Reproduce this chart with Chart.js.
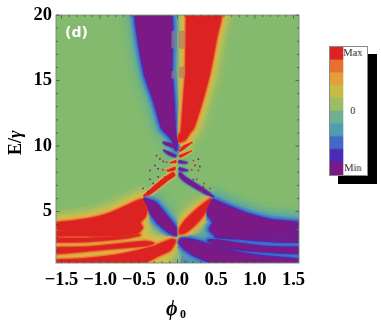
<!DOCTYPE html>
<html>
<head>
<meta charset="utf-8">
<script src="https://cdn.jsdelivr.net/npm/chart.js@4/dist/chart.umd.js"></script>
<style>
  html, body { margin: 0; background: #fff; overflow: hidden; }
  #wrap { position: relative; width: 381px; height: 327px; filter: blur(0.6px); }
  #map { position: absolute; left: 0; top: 0; }
  #bar { position: absolute; left: 329px; top: 46px; background: #fff; box-sizing: border-box; border: 1px solid #8a8a8a; box-shadow: 9px 8px 0 #000; }
</style>
</head>
<body>
<div id="wrap">
  <canvas id="map" width="381" height="327"></canvas>
  <canvas id="bar" width="39" height="130"></canvas>
</div>
<script>
// axes
var xTicks = [-1.5, -1, -0.5, 0, 0.5, 1, 1.5];
var xLabels = ['\u22121.5', '\u22121.0', '\u22120.5', '0.0', '0.5', '1.0', '1.5'];
var yTicks = [5, 10, 15, 20];
var yLabels = ['5', '10', '15', '20'];
var xMinor = [-1.4, -1.3, -1.2, -1.1, -0.9, -0.8, -0.7, -0.6, -0.4, -0.3, -0.2, -0.1, 0.1, 0.2, 0.3, 0.4, 0.6, 0.7, 0.8, 0.9, 1.1, 1.2, 1.3, 1.4];
var yMinor = [2, 3, 4, 6, 7, 8, 9, 11, 12, 13, 14, 16, 17, 18, 19];

// colour bar
var legendValues = [1, 1, 1, 1, 1, 1, 1, 1, 1, 1];
var legendColors = ['#7b1a86', '#4a2bb5', '#4268c8', '#4f9db0', '#6fb090', '#9cbd62', '#c8bb45', '#e3a03a', '#e8702f', '#dd2222'];
var legendTicks = [0.5, 5, 9.5];
var legendLabels = ['Min', '0', 'Max'];

// contours as [phi, E/gamma]
var wedgePurple = [[-0.558, 20.5], [-0.506, 18.25], [-0.42, 15.5], [-0.29, 13.25], [-0.197, 11.39], [-0.12, 10.89], [-0.063, 10.5], [-0.02, 9.76], [-0.011, 10.39], [-0.035, 11], [-0.052, 13.25], [-0.082, 15.75], [-0.104, 20.5]];
var wedgeRed = [[0.12, 20.5], [0.108, 15.75], [0.078, 13.25], [0.048, 11], [0.024, 10.89], [0.02, 10.34], [0.097, 10.5], [0.153, 11], [0.205, 11.39], [0.307, 13.25], [0.41, 15.5], [0.5, 18.25], [0.563, 20.5]];

var wingRedMain = [[-1.6, 4.1], [-1.33, 4.27], [-1.07, 4.52], [-0.855, 4.9], [-0.64, 5.47], [-0.457, 5.9], [-0.4, 5.15], [-0.42, 4.65], [-0.487, 4.15], [-0.457, 3.77], [-0.53, 3.32], [-0.94, 3.15], [-1.33, 3.17], [-1.6, 3.17], [-1.6, 3.45], [-1.375, 3.52], [-1.6, 3.72]];
var wingRedBand2 = [[-1.6, 2.95], [-1.16, 2.95], [-0.725, 3.1], [-0.487, 3.2], [-0.725, 2.95], [-1.16, 2.74], [-1.6, 2.72]];
var wingRedBand3 = [[-1.6, 2.22], [-1.16, 2.27], [-0.725, 2.52], [-0.42, 2.7], [-0.314, 2.57], [-0.42, 2.4], [-0.81, 2.22], [-1.16, 2.02], [-1.6, 1.82]];
var wingRedBand4 = [[-1.6, 1.27], [-1.16, 1.4], [-0.725, 1.72], [-0.335, 2.27], [-0.076, 2.85], [-0.03, 2.77], [-0.097, 2.07], [-0.25, 1.65], [-0.42, 1.15], [-0.725, 1.0], [-1.6, 1.0]];

var wingPurpleMain = [[0.444, 5.9], [0.7, 5.27], [0.92, 4.77], [1.22, 4.32], [1.6, 4.1], [1.6, 3.82], [1.4, 3.6], [1.6, 3.45], [1.6, 3.2], [1.18, 3.2], [0.75, 3.27], [0.51, 3.15], [0.42, 3.65], [0.465, 4.15], [0.4, 4.77], [0.38, 5.4]];
var wingPurpleBand2 = [[1.6, 3.02], [1.18, 3.02], [0.75, 3.22], [0.49, 3.07], [0.75, 2.97], [1.18, 2.77], [1.6, 2.72]];
var wingPurpleBand3 = [[1.6, 2.22], [1.18, 2.27], [0.75, 2.57], [0.53, 2.77], [0.4, 2.77], [0.53, 2.4], [0.75, 2.15], [1.18, 1.95], [1.6, 1.87]];
var wingPurpleBand4 = [[1.6, 1.32], [1.18, 1.52], [0.75, 1.9], [0.44, 2.4], [0.18, 2.82], [0.054, 2.87], [0.03, 2.65], [0.097, 2.15], [0.23, 1.65], [0.44, 1.15], [0.83, 1.0], [1.6, 1.0]];

var bladeRed = [[0.435, 5.97], [0.357, 5.65], [0.227, 5.02], [0.097, 4.27], [0.03, 3.65], [0.03, 3.32], [0.097, 3.4], [0.206, 3.9], [0.335, 4.77]];
var bladePurple = [[-0.444, 5.97], [-0.29, 5.65], [-0.162, 4.77], [-0.032, 3.77], [-0.024, 3.27], [-0.097, 3.4], [-0.25, 4.15], [-0.357, 5.02]];

var spineRed = [[-0.444, 6.19], [-0.314, 6.89], [-0.184, 7.52], [-0.054, 8.0], [-0.032, 7.76], [-0.12, 7.39], [-0.25, 6.77], [-0.38, 6.22]];
var spinePurple = [[0.032, 8.0], [0.097, 7.64], [0.227, 7.14], [0.357, 6.64], [0.466, 6.14], [0.357, 6.39], [0.206, 6.89], [0.076, 7.39], [0.024, 7.76]];

var dashRedA = [[-0.14, 8.14], [-0.032, 8.39], [-0.032, 8.19], [-0.12, 8.07]];
var dashRedB = [[-0.097, 8.72], [-0.02, 8.89], [-0.02, 8.74]];
var dashRedC = [[0.02, 9.27], [0.097, 9.44], [0.184, 9.64], [0.097, 9.32], [0.032, 9.14]];
var dashRedD = [[0.02, 9.64], [0.076, 10.0], [0.184, 10.27], [0.097, 9.84], [0.03, 9.59]];
var dashPurpleA = [[0.02, 8.34], [0.128, 8.14], [0.03, 8.14]];
var dashPurpleB = [[0.02, 8.89], [0.12, 8.72], [0.02, 8.74]];
var dashPurpleC = [[-0.184, 9.69], [-0.076, 9.44], [-0.02, 9.27], [-0.032, 9.19], [-0.12, 9.39]];
var dashPurpleD = [[-0.184, 10.3], [-0.076, 10.14], [-0.024, 9.84], [-0.076, 9.94], [-0.162, 10.14]];

// soft underlays behind the lower wings
var yellowField = [[-1.6, 4.4], [-1.33, 4.57], [-1.07, 4.87], [-0.855, 5.27], [-0.64, 5.82], [-0.457, 6.27], [-0.357, 5.77], [-0.27, 4.77], [-0.184, 3.77], [-0.076, 3.27], [0, 3.0], [0.0, 1.0], [-1.6, 1.0]];
var blueField = [[1.6, 4.4], [1.22, 4.6], [0.92, 5.05], [0.7, 5.6], [0.444, 6.27], [0.36, 5.77], [0.27, 4.77], [0.184, 3.77], [0.076, 3.27], [0.02, 3.0], [0.02, 1.0], [1.6, 1.0]];
var greenFingerA = [[-1.6, 2.64], [-1.16, 2.64], [-0.8, 2.5], [-1.16, 2.36], [-1.6, 2.3]];
var greenFingerB = [[-1.6, 1.74], [-1.16, 1.92], [-0.72, 2.1], [-1.16, 1.52], [-1.6, 1.36]];
var tealFingerA = [[1.6, 2.66], [1.18, 2.66], [0.85, 2.5], [1.18, 2.36], [1.6, 2.28]];
var tealFingerB = [[1.6, 1.8], [1.18, 1.88], [0.8, 2.02], [1.18, 1.58], [1.6, 1.4]];
var centerStrip = [[-0.02, 3.1], [0.03, 3.1], [0.03, 1.0], [-0.02, 1.0]];

// blotches in the narrow column at the top
var blotchRight = [[[0.03, 18.75], [0.09, 18.75], [0.09, 17.5], [0.03, 17.5]], [[0.03, 16], [0.09, 16], [0.09, 15.25], [0.03, 15.25]]];
var blotchLeft = [[[-0.07, 18.75], [-0.02, 18.75], [-0.02, 17.5], [-0.07, 17.5]], [[-0.07, 15.7], [-0.02, 15.7], [-0.02, 15.2], [-0.07, 15.2]]];

// isolated specks along the spikes
var specksPurple = [[-0.27, 9.27], [-0.227, 9.02], [-0.184, 8.82], [-0.292, 8.52], [-0.25, 8.27], [-0.357, 8.14], [-0.357, 7.46], [-0.25, 7.64], [-0.314, 7.14], [-0.444, 6.77], [-0.38, 6.52], [-0.184, 10.27], [0.227, 8.52], [0.29, 8.44], [0.27, 9.0], [0.206, 7.44], [0.335, 6.89]];
var specksRed = [[-0.19, 8.19], [-0.14, 8.77], [-0.162, 7.64], [-0.292, 6.94], [0.184, 10.27], [0.12, 8.77], [0.206, 8.89], [0.27, 8.14], [0.184, 8.19], [0.25, 7.46], [0.344, 7.14], [0.422, 6.77], [0.314, 6.52]];

var red = '#dd2222';
var purple = '#7b1a86';
var green = '#84ba6e';

var bigRed = [wedgeRed, wingRedMain, wingRedBand2, wingRedBand3, wingRedBand4, bladeRed];
var bigPurple = [wedgePurple, wingPurpleMain, wingPurpleBand2, wingPurpleBand3, wingPurpleBand4, bladePurple];
var smallRed = [spineRed, dashRedA, dashRedB, dashRedC, dashRedD];
var smallPurple = [spinePurple, dashPurpleA, dashPurpleB, dashPurpleC, dashPurpleD];

function toPoints(pts) {
  return pts.concat([pts[0]]).map(function (p) { return { x: p[0], y: p[1] }; });
}
function area(pts, color) {
  return { data: toPoints(pts), showLine: true, fill: 'shape', backgroundColor: color, borderColor: color, borderWidth: 1, pointRadius: 0, tension: 0.2, clip: 0 };
}
function halo(pts, color, width) {
  return { data: toPoints(pts), showLine: true, fill: false, borderColor: color, borderWidth: width, pointRadius: 0, tension: 0.2, clip: 0 };
}
function specks(pts, color) {
  return { data: pts.map(function (p) { return { x: p[0], y: p[1] }; }), showLine: false, pointRadius: 0.9, pointBorderWidth: 0, pointBackgroundColor: color, clip: 0 };
}

// painted in this order, bottom layer first
var layers = [];
function ring(list, color, width) {
  list.forEach(function (p) { layers.push(halo(p, color, width)); });
}
ring([yellowField], 'rgba(175,190,95,0.25)', 18);
ring([yellowField], 'rgba(175,190,95,0.35)', 10);
layers.push(area(yellowField, '#cfc24e'));
ring([blueField], 'rgba(95,170,155,0.25)', 18);
ring([blueField], 'rgba(95,170,155,0.35)', 10);
layers.push(area(blueField, '#4a78c8'));
layers.push(area(centerStrip, '#8fb98a'));
ring(bigPurple, 'rgba(100,175,150,0.14)', 34);
ring(bigRed, 'rgba(170,190,95,0.14)', 34);
ring(bigPurple, 'rgba(100,175,150,0.2)', 26);
ring(bigRed, 'rgba(180,190,90,0.22)', 26);
layers.push(area(greenFingerA, '#a5bf64'));
layers.push(area(greenFingerB, '#a5bf64'));
layers.push(area(tealFingerA, '#5aa0b0'));
layers.push(area(tealFingerB, '#5aa0b0'));
ring(bigPurple, 'rgba(90,165,165,0.3)', 19);
ring(bigRed, 'rgba(195,195,85,0.35)', 19);
ring(bigPurple, 'rgba(85,160,175,0.5)', 14);
ring(bigRed, 'rgba(210,190,75,0.55)', 14);
ring(smallPurple, 'rgba(85,160,165,0.5)', 5);
ring(smallRed, 'rgba(205,195,80,0.5)', 5);
ring(bigPurple, 'rgba(70,135,190,0.8)', 10);
ring(bigRed, 'rgba(225,175,65,0.85)', 9);
ring(smallPurple, 'rgba(62,80,205,0.85)', 2.5);
ring(smallRed, 'rgba(232,150,60,0.85)', 2.5);
ring(bigPurple, 'rgba(62,100,205,0.95)', 6);
ring(bigRed, 'rgba(232,130,50,0.95)', 5);
ring(bigPurple, '#4a2bb5', 3);
ring(bigRed, '#e2442a', 2.5);
bigPurple.forEach(function (p) { layers.push(area(p, purple)); });
bigRed.forEach(function (p) { layers.push(area(p, red)); });
smallPurple.forEach(function (p) { layers.push(area(p, purple)); });
smallRed.forEach(function (p) { layers.push(area(p, red)); });
blotchRight.forEach(function (p) { layers.push(area(p, 'rgba(190,120,90,0.7)')); });
blotchLeft.forEach(function (p) { layers.push(area(p, 'rgba(120,130,150,0.7)')); });
layers.push(specks(specksPurple, purple));
layers.push(specks(specksRed, red));
layers.reverse(); // first dataset is drawn last

var mapDecor = {
  id: 'mapDecor',
  beforeDatasetsDraw: function (chart) {
    var a = chart.chartArea, c = chart.ctx;
    c.save();
    c.fillStyle = green;
    c.fillRect(a.left, a.top, a.right - a.left, a.bottom - a.top);
    c.restore();
  },
  afterDraw: function (chart) {
    var a = chart.chartArea, c = chart.ctx, sx = chart.scales.x, sy = chart.scales.y;
    c.save();
    c.strokeStyle = '#7d8f7d';
    c.lineWidth = 1;
    c.strokeRect(a.left, a.top, a.right - a.left, a.bottom - a.top);

    function mark(x1, y1, x2, y2) { c.beginPath(); c.moveTo(x1, y1); c.lineTo(x2, y2); c.stroke(); }
    c.strokeStyle = 'rgba(60,70,60,0.7)';
    xTicks.forEach(function (v) { var p = sx.getPixelForValue(v); mark(p, a.bottom, p, a.bottom - 3.5); mark(p, a.top, p, a.top + 3.5); });
    xMinor.forEach(function (v) { var p = sx.getPixelForValue(v); mark(p, a.bottom, p, a.bottom - 2); mark(p, a.top, p, a.top + 2); });
    yTicks.forEach(function (v) { var p = sy.getPixelForValue(v); mark(a.left, p, a.left + 3.5, p); mark(a.right, p, a.right - 3.5, p); });
    yMinor.forEach(function (v) { var p = sy.getPixelForValue(v); mark(a.left, p, a.left + 2, p); mark(a.right, p, a.right - 2, p); });

    c.fillStyle = '#fff';
    c.font = 'bold 14px "DejaVu Sans"';
    c.textBaseline = 'alphabetic';
    c.fillText('(d)', 65, 37);

    c.fillStyle = '#000';
    c.font = 'bold italic 20px "Liberation Serif"';
    c.fillText('\u03d5', 166, 315);
    c.font = 'bold 12px "Liberation Serif"';
    c.fillText('0', 180, 318);

    c.translate(21, 155);
    c.rotate(-Math.PI / 2);
    c.font = 'bold 18px "Liberation Serif"';
    c.fillText('E/', 0, 0);
    var w = c.measureText('E/').width;
    c.font = 'bold italic 18px "Liberation Serif"';
    c.fillText('\u03b3', w, 0);
    c.restore();
  }
};

new Chart(document.getElementById('map').getContext('2d'), {
  type: 'scatter',
  data: { datasets: layers },
  plugins: [mapDecor],
  options: {
    responsive: false,
    animation: false,
    layout: { padding: { top: 10, right: 82, left: 0, bottom: 0 } },
    plugins: { legend: { display: false }, tooltip: { enabled: false } },
    scales: {
      x: {
        type: 'linear', min: -1.5708, max: 1.5708,
        afterFit: function (s) { s.height = 64; },
        afterBuildTicks: function (s) { s.ticks = xTicks.map(function (v) { return { value: v }; }); },
        grid: { display: false, drawTicks: false },
        border: { display: false },
        ticks: {
          autoSkip: false, maxRotation: 0, padding: 6, color: '#000', font: { family: 'Liberation Serif', size: 18.5, weight: 'bold' },
          callback: function (v) { return xLabels[xTicks.indexOf(v)]; }
        }
      },
      y: {
        type: 'linear', min: 1.07, max: 20,
        afterFit: function (s) { s.width = 56; },
        afterBuildTicks: function (s) { s.ticks = yTicks.map(function (v) { return { value: v }; }); },
        grid: { display: false, drawTicks: false },
        border: { display: false },
        ticks: {
          autoSkip: false, padding: 4, color: '#000', font: { family: 'Liberation Serif', size: 18.5, weight: 'bold' },
          callback: function (v) { return yLabels[yTicks.indexOf(v)]; }
        }
      }
    }
  }
});

new Chart(document.getElementById('bar').getContext('2d'), {
  type: 'bar',
  data: {
    labels: [''],
    datasets: legendValues.map(function (v, i) {
      return { data: [v], backgroundColor: legendColors[i], barPercentage: 1, categoryPercentage: 1, borderWidth: 0 };
    })
  },
  options: {
    responsive: false,
    animation: false,
    plugins: { legend: { display: false }, tooltip: { enabled: false } },
    scales: {
      x: { stacked: true, display: false },
      y: {
        stacked: true, position: 'right', min: 0, max: 10,
        afterFit: function (s) { s.width = 25; s.paddingTop = 0; s.paddingBottom = 0; },
        afterBuildTicks: function (s) { s.ticks = legendTicks.map(function (v) { return { value: v }; }); },
        grid: { display: false, drawTicks: false },
        border: { display: false },
        ticks: {
          autoSkip: false, padding: 0, crossAlign: 'center', color: '#222', font: { family: 'Liberation Serif', size: 11 },
          callback: function (v) { return legendLabels[legendTicks.indexOf(v)]; }
        }
      }
    }
  }
});
</script>
</body>
</html>
